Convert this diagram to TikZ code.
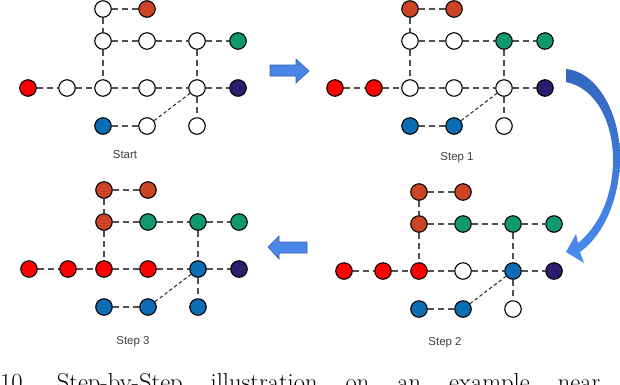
\documentclass[tikz,border=0pt]{standalone}
\usepackage{fontspec}
\newfontfamily\labelfont{Liberation Sans}
\definecolor{cO}{HTML}{CC4426}
\definecolor{cG}{HTML}{10996F}
\definecolor{cP}{HTML}{2E1C6C}
\definecolor{cR}{HTML}{FF0000}
\definecolor{cB}{HTML}{0B6DB3}
\definecolor{cW}{HTML}{FFFFFF}
\definecolor{arrowblue}{HTML}{4A86E8}
\definecolor{arrowtop}{HTML}{3366C0}
\definecolor{arrowbot}{HTML}{4A8CF0}
\definecolor{edgegray}{HTML}{505050}
\newcommand\gridcoords{%
  \foreach \n/\x/\y in {20/75/0,30/119/0,21/75/32,31/119/32,41/169/32,51/210/32,02/0/79,12/39/79,22/75/79,32/119/79,42/169/79,52/210/79,23/75/117,33/119/117,43/169/117}
    \coordinate (p\n) at (\x,\y);%
}
\newcommand\graphnodes[2]{%
  \foreach \n/\c in {#2}
    \node[nd, fill=\c] (#1\n) at (p\n) {};
  \foreach \a/\b in {20/30,20/21,21/31,31/41,41/51,21/22,41/42,02/12,12/22,22/32,32/42,42/52,42/43,23/33}
    \draw[edge] (#1\a) -- (#1\b);
  \draw[diag] (#133) -- (#142);
}
\begin{document}
\begin{tikzpicture}[x=1pt,y=-1pt,
  nd/.style={circle,draw=black,line width=1.1pt,minimum size=16.5pt,inner sep=0pt},
  edge/.style={draw=edgegray,line width=1.9pt,dash pattern=on 6pt off 4pt},
  diag/.style={draw=black!85,line width=1pt,dash pattern=on 3.5pt off 2.5pt},
  lbl/.style={font=\labelfont\fontsize{11.5}{13}\selectfont,text=black!75,inner sep=0pt},
  blockarrow/.style={fill=arrowblue,draw=arrowblue!70!black,line width=0.6pt}]
\useasboundingbox (0,0) rectangle (620,384);
\clip (0,0) rectangle (620,384);
\fill[white] (0,0) rectangle (620,384);

% Start
\begin{scope}[shift={(28,9)}]
  \gridcoords
  \graphnodes{a}{20/cW,30/cO,21/cW,31/cW,41/cW,51/cG,02/cR,12/cW,22/cW,32/cW,42/cW,52/cP,23/cB,33/cW,43/cW}
\end{scope}
% Step 1
\begin{scope}[shift={(335,9)}]
  \gridcoords
  \graphnodes{b}{20/cO,30/cO,21/cW,31/cW,41/cG,51/cG,02/cR,12/cR,22/cW,32/cW,42/cW,52/cP,23/cB,33/cB,43/cW}
\end{scope}
% Step 2
\begin{scope}[shift={(344,192)}]
  \gridcoords
  \graphnodes{c}{20/cO,30/cO,21/cO,31/cG,41/cG,51/cG,02/cR,12/cR,22/cR,32/cW,42/cB,52/cP,23/cB,33/cB,43/cW}
\end{scope}
% Step 3
\begin{scope}[shift={(29,190)}]
  \gridcoords
  \graphnodes{d}{20/cO,30/cO,21/cO,31/cG,41/cG,51/cG,02/cR,12/cR,22/cR,32/cR,42/cB,52/cP,23/cB,33/cB,43/cB}
\end{scope}

% labels
\node[lbl] (l1) at (125,155) {Start};
\node[lbl] (l2) at (457,158) {Step 1};
\node[lbl] (l3) at (445,343) {Step 2};
\node[lbl] (l4) at (133,342) {Step 3};

% straight block arrows
\draw[blockarrow] (270,65) -- (296,65) -- (296,59) -- (309,71) -- (296,83) -- (296,76) -- (270,76) -- cycle;
\draw[blockarrow] (307,242) -- (279,242) -- (279,236) -- (268,247) -- (279,259) -- (279,253) -- (307,253) -- cycle;

% curved arrow
\shade[top color=arrowtop,bottom color=arrowbot]
  (566,69) .. controls (598,72) and (621,115) .. (620,160)
  .. controls (619,205) and (600,238) .. (580,252)
  -- (584,263) -- (566,252) -- (576,234) -- (578,243)
  .. controls (597,228) and (613,198) .. (613,160)
  .. controls (613,122) and (596,88) .. (566,82) -- cycle;

% caption (cut off at the bottom, as in the reference)
\node[anchor=base west,inner sep=0pt,font=\fontsize{24.5}{28}\selectfont] (cap) at (0,390.5)
  {\hbox to 600pt{10.\hfill Step-by-Step\hfill illustration\hfill on\hfill an\hfill example\hfill near}};
\end{tikzpicture}
\end{document}
